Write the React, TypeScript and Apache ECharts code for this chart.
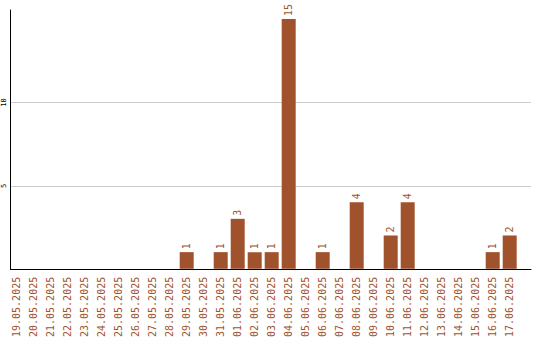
import React, { useEffect, useRef } from "react";
import * as echarts from "echarts";

const categories: string[] = [
  "19.05.2025", "20.05.2025", "21.05.2025", "22.05.2025", "23.05.2025",
  "24.05.2025", "25.05.2025", "26.05.2025", "27.05.2025", "28.05.2025",
  "29.05.2025", "30.05.2025", "31.05.2025", "01.06.2025", "02.06.2025",
  "03.06.2025", "04.06.2025", "05.06.2025", "06.06.2025", "07.06.2025",
  "08.06.2025", "09.06.2025", "10.06.2025", "11.06.2025", "12.06.2025",
  "13.06.2025", "14.06.2025", "15.06.2025", "16.06.2025", "17.06.2025",
];

const counts: number[] = [
  0, 0, 0, 0, 0, 0, 0, 0, 0, 0,
  1, 0, 1, 3, 1, 1, 15, 0, 1, 0,
  4, 0, 2, 4, 0, 0, 0, 0, 1, 2,
];

const yTickLabels: number[] = [5, 10];

const BROWN = "#a0522d";
const FONT = "DejaVu Sans Mono";
const Y_MAX = 15.54;

export default function App() {
  const ref = useRef<HTMLDivElement>(null);
  useEffect(() => {
    if (!ref.current) return;
    const chart = echarts.init(ref.current, null, { renderer: "svg" });
    chart.setOption({
      animation: false,
      backgroundColor: "#ffffff",
      textStyle: { fontFamily: FONT },
      grid: [
        { left: 8.2, width: 510, top: 10, height: 259.5 },
        { left: 10.5, right: 9, top: 10, height: 259.5 },
      ],
      xAxis: [
        {
          type: "category",
          gridIndex: 0,
          data: categories,
          axisLine: { show: false },
          axisTick: { show: false },
          splitLine: { show: false },
          axisLabel: {
            interval: 0,
            rotate: 90,
            margin: 8,
            color: BROWN,
            fontSize: 10,
            fontFamily: FONT,
          },
        },
        {
          type: "value",
          gridIndex: 1,
          min: 0,
          max: 1,
          axisLine: { show: true, lineStyle: { color: "#000", width: 1 } },
          axisTick: { show: false },
          axisLabel: { show: false },
          splitLine: { show: false },
        },
      ],
      yAxis: [
        {
          type: "value",
          gridIndex: 0,
          min: 0,
          max: Y_MAX,
          show: false,
          splitLine: { show: false },
        },
        {
          type: "value",
          gridIndex: 1,
          min: 0,
          max: Y_MAX,
          interval: 5,
          axisLine: { show: true, lineStyle: { color: "#000", width: 1 } },
          axisTick: { show: false },
          splitLine: {
            show: true,
            lineStyle: { color: ["rgba(0,0,0,0)", "#cccccc", "#cccccc", "rgba(0,0,0,0)"], width: 1 },
          },
          axisLabel: {
            rotate: 90,
            margin: 3,
            fontSize: 7,
            color: "#000",
            fontFamily: FONT,
            formatter: (v: number) => (yTickLabels.indexOf(v) >= 0 ? String(v) : ""),
          },
        },
      ],
      series: [
        {
          type: "bar",
          xAxisIndex: 0,
          yAxisIndex: 0,
          data: counts,
          barWidth: 14,
          itemStyle: { color: BROWN },
          label: {
            show: true,
            position: "top",
            rotate: 90,
            align: "left",
            verticalAlign: "middle",
            distance: 3,
            color: BROWN,
            fontSize: 10,
            fontFamily: FONT,
            formatter: (p: any) => (p.value ? String(p.value) : ""),
          },
        },
      ],
    });
    return () => chart.dispose();
  }, []);
  return (
    <div
      ref={ref}
      style={{ position: "fixed", left: 0, top: 0, width: 540, height: 340 }}
    />
  );
}
